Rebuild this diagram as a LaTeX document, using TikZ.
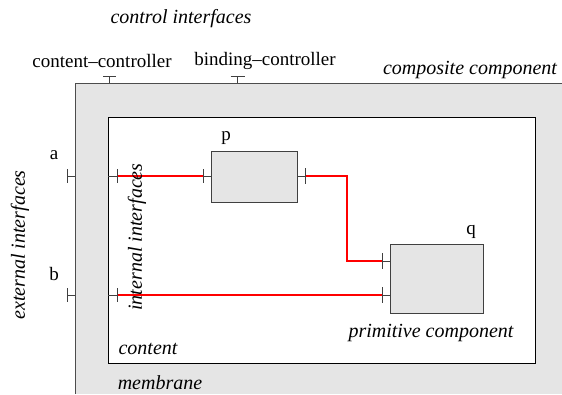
\documentclass[tikz,border=0pt]{standalone}
\usepackage{fontspec}
\setmainfont{Liberation Serif}
\usetikzlibrary{positioning}

\definecolor{memgray}{HTML}{E5E5E5}
\definecolor{wire}{HTML}{FF0000}

\tikzset{
  lbl/.style={inner sep=0pt, font=\fontsize{19}{22}\selectfont},
  ilbl/.style={inner sep=0pt, font=\fontsize{20}{23}\selectfont\itshape},
  comp/.style={draw=black!75, fill=memgray, line width=1pt, inner sep=0pt, anchor=north west},
  stub/.style={draw=black!75, line width=1pt},
  binding/.style={draw=wire, line width=1.3pt}
}

\begin{document}
\begin{tikzpicture}[x=1pt, y=-1pt]
\useasboundingbox (0,0) rectangle (562,394);

 % membrane of the composite component
 \fill[memgray] (75,83) rectangle (562,394);
 \draw[black!70, line width=1pt] (562,83.5) -- (75.5,83.5) -- (75.5,394);
 \node[draw=black, fill=white, line width=1pt, inner sep=0pt, anchor=north west,
       minimum width=427pt, minimum height=246pt] (content) at (108,117) {};

 % primitive components
 \node[comp, minimum width=86pt, minimum height=51pt] (p) at (211,151) {};
 \node[comp, minimum width=93pt, minimum height=69pt] (q) at (390,244) {};

 % interface points
 \coordinate (aout) at (67,176);
 \coordinate (ain) at (117,176);
 \coordinate (bout) at (67,295);
 \coordinate (bin) at (117,295);
 \coordinate (pin) at (203,176);
 \coordinate (pout) at (305,176);
 \coordinate (bend1) at (347,176);
 \coordinate (bend2) at (347,261);
 \coordinate (qin1) at (382,261);
 \coordinate (qin2) at (382,295);
 \coordinate (cc) at (109.5,76.5);
 \coordinate (bc) at (237.5,76.5);

 % bindings
 \draw[binding] (ain) -- (pin);
 \draw[binding] (pout) -- (bend1) -- (bend2) -- (qin1);
 \draw[binding] (bin) -- (qin2);

 % external interfaces
 \draw[stub] (75,176) -- (aout) ++(0,-7) -- ++(0,14);
 \draw[stub] (75,295) -- (bout) ++(0,-7) -- ++(0,14);
 % internal interfaces
 \draw[stub] (108,176) -- (ain) ++(0,-7) -- ++(0,14);
 \draw[stub] (108,295) -- (bin) ++(0,-7) -- ++(0,14);
 % interfaces of p and q
 \draw[stub] (p.west |- pin) -- (pin) ++(0,-7) -- ++(0,14);
 \draw[stub] (p.east |- pout) -- (pout) ++(0,-8) -- ++(0,16);
 \draw[stub] (q.west |- qin1) -- (qin1) ++(0,-8) -- ++(0,16);
 \draw[stub] (q.west |- qin2) -- (qin2) ++(0,-8) -- ++(0,16);
 % control interfaces
 \draw[stub] (109.5,83) -- (cc) ++(-6.5,0) -- ++(13,0);
 \draw[stub] (237.5,83) -- (bc) ++(-7,0) -- ++(14,0);

 % labels
 \node[ilbl] (ctrl) at (181,19) {control interfaces};
 \node[lbl] (cclbl) at (102,61) {content--controller};
 \node[lbl] (bclbl) at (265,61) {binding--controller};
 \node[ilbl] (complbl) at (470,70) {composite component};
 \node[lbl] (plbl) at (226,138) {p};
 \node[lbl] (qlbl) at (471,232) {q};
 \node[lbl] (albl) at (54,155) {a};
 \node[lbl] (blbl) at (54,274) {b};
 \node[ilbl, rotate=90] (extlbl) at (20,245) {external interfaces};
 \node[ilbl, rotate=90] (intlbl) at (137,237) {internal interfaces};
 \node[ilbl] (contlbl) at (148,349) {content};
 \node[ilbl] (memlbl) at (160,383) {membrane};
 \node[ilbl] (primlbl) at (431,333) {primitive component};

\end{tikzpicture}
\end{document}
